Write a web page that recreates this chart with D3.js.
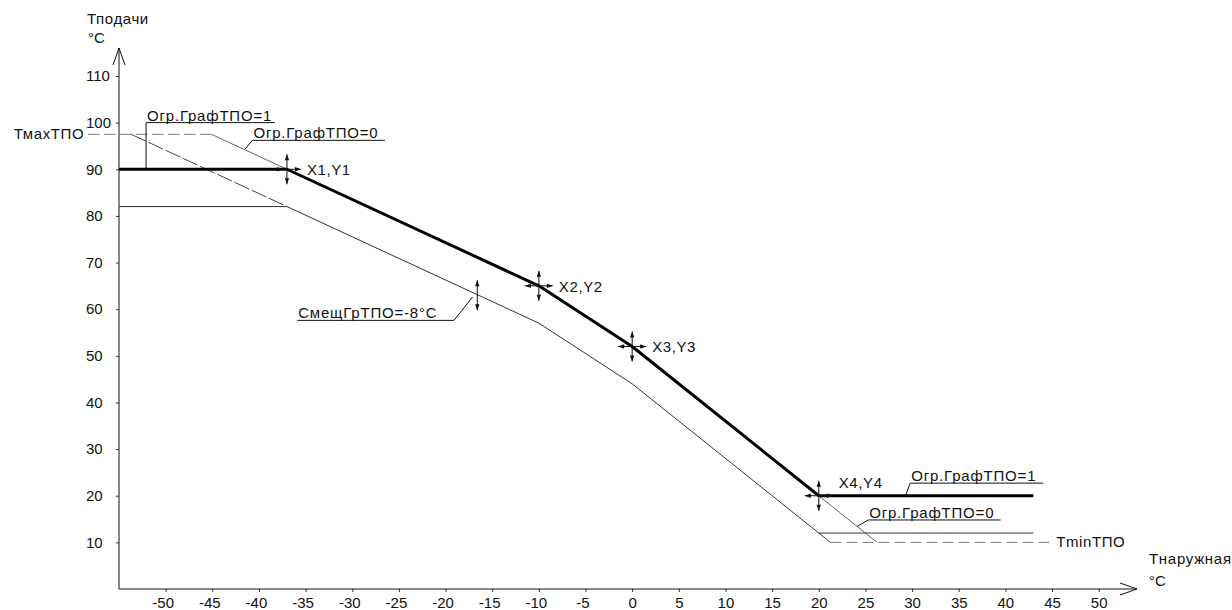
<!DOCTYPE html>
<html>
<head>
<meta charset="utf-8">
<script src="https://cdn.jsdelivr.net/npm/d3@7"></script>
<style>
    body { margin: 0; background: #fff; }
    svg { display: block; }
    text { font-family: "Liberation Sans", Arial, sans-serif; font-size: 15px; fill: #111; }
</style>
</head>
<body>
<svg id="chart" width="1232" height="610"></svg>
<script>
// tick labels
const xTicks = [-50, -45, -40, -35, -30, -25, -20, -15, -10, -5, 0, 5, 10, 15, 20, 25, 30, 35, 40, 45, 50];
const yTicks = [10, 20, 30, 40, 50, 60, 70, 80, 90, 100, 110];

// heating curve with limits on (Огр.ГрафТПО=1)
const curveOn = [[-55, 90], [-37, 90], [-10, 65], [0, 52], [20, 20], [43, 20]];
// same curve shifted by -8
const curveShift = [[-55, 82], [-37, 82], [-10, 57], [0, 44], [20, 12], [43, 12]];
// extensions up to Tmax / down to Tmin (Огр.ГрафТПО=0)
const extTop = [[-45.1, 97.5], [-37, 90]];
const extBottom = [[20, 20], [26.25, 10]];
const shiftExtTop = [[-53.7, 97.5], [-37, 82]];
const shiftExtBottom = [[20, 12], [21.25, 10]];
// Tmax / Tmin levels
const tmaxLine = [[-58.3, 97.5], [-45.1, 97.5]];
const tminLine = [[21.25, 10], [44.7, 10]];

// setpoints
const pointNames = ["X1,Y1", "X2,Y2", "X3,Y3", "X4,Y4"];
const pointX = [-37, -10, 0, 20];
const pointY = [90, 65, 52, 20];

// leader labels: text, underline from x0..x1 at y, leader end (tx, ty)
const notes = [
    {text: "Огр.ГрафТПО=1", x0: -52.1, x1: -38.3, y: 100, tx: -52.1, ty: 90},
    {text: "Огр.ГрафТПО=0", x0: -40.7, x1: -26.5, y: 96.2, tx: -41.5, ty: 94.3},
    {text: "СмещГрТПО=-8°С", x0: -35.9, x1: -19.1, y: 57.6, tx: -17.1, ty: 62.6},
    {text: "Огр.ГрафТПО=1", x0: 29.8, x1: 44.05, y: 22.7, tx: 29.3, ty: 20},
    {text: "Огр.ГрафТПО=0", x0: 25.3, x1: 39.5, y: 14.8, tx: 24.1, ty: 13.4}
];
const shiftMarkX = -16.6, shiftMarkY = 63;

const svg = d3.select("#chart");

// Scales
const x = d3.scaleLinear().domain([-55, 54]).range([119, 1136]);
const y = d3.scaleLinear().domain([0, 116]).range([589, 48]);
const line = d3.line().x(d => x(d[0])).y(d => y(d[1]));

// Axes
const gx = svg.append("g")
    .attr("transform", `translate(0,${y(0)})`)
    .call(d3.axisBottom(x).tickValues(xTicks).tickSize(3).tickSizeOuter(0).tickFormat(d => String(d)));
gx.select(".domain").remove();
gx.selectAll("text")
    .attr("y", 19)
    .attr("dy", 0)
    .attr("dx", d => d < 0 ? -3 : 0)
    .style("font-size", "15px")
    .style("font-family", "Liberation Sans, Arial, sans-serif")
    .attr("fill", "#111");

const gy = svg.append("g")
    .attr("transform", `translate(${x(-55)},0)`)
    .call(d3.axisLeft(y).tickValues(yTicks).tickSize(3).tickSizeOuter(0));
gy.select(".domain").remove();
gy.selectAll("text")
    .attr("text-anchor", "start")
    .attr("x", 86 - x(-55))
    .style("font-size", "15px")
    .style("font-family", "Liberation Sans, Arial, sans-serif")
    .attr("fill", "#111");
svg.selectAll(".tick line").attr("stroke", "#333");

// axis lines with open arrows
const x0 = x(-55), y0 = y(0), xEnd = 1137, yEnd = 48;
svg.append("path")
    .attr("d", `M${x0},${y0}H${xEnd}M${xEnd - 17},${y0 - 6}L${xEnd},${y0}L${xEnd - 17},${y0 + 6}`)
    .attr("fill", "none").attr("stroke", "#111");
svg.append("path")
    .attr("d", `M${x0},${y0}V${yEnd}M${x0 - 6},${yEnd + 17}L${x0},${yEnd}L${x0 + 6},${yEnd + 17}`)
    .attr("fill", "none").attr("stroke", "#111");

// axis titles
svg.append("text").attr("x", 87).attr("y", 24).attr("letter-spacing", 0.6).text("Тподачи");
svg.append("text").attr("x", 88).attr("y", 43).text("°С");
svg.append("text").attr("x", 1149).attr("y", 564).attr("letter-spacing", 0.7).text("Тнаружная");
svg.append("text").attr("x", 1149).attr("y", 586).text("°С");

// Tmax / Tmin dashed levels
svg.append("path").datum(tmaxLine).attr("d", line)
    .attr("fill", "none").attr("stroke", "#777").attr("stroke-dasharray", "11,5");
svg.append("path").datum(tminLine).attr("d", line)
    .attr("fill", "none").attr("stroke", "#777").attr("stroke-dasharray", "11,5");
svg.append("text").attr("x", x(tmaxLine[0][0]) - 4).attr("y", y(97.5) + 5)
    .attr("text-anchor", "end").attr("letter-spacing", 0.6).text("ТмахТПО");
svg.append("text").attr("x", x(tminLine[1][0]) + 7).attr("y", y(10) + 5)
    .attr("letter-spacing", 0.6).text("ТminТПО");

// extensions
[extTop, extBottom].forEach(d => {
    svg.append("path").datum(d).attr("d", line)
        .attr("fill", "none").attr("stroke", "#666").attr("stroke-width", 1);
});
[shiftExtTop, shiftExtBottom].forEach(d => {
    svg.append("path").datum(d).attr("d", line)
        .attr("fill", "none").attr("stroke", "#444").attr("stroke-width", 1)
        .attr("stroke-dasharray", "16,3");
});

// shifted curve
svg.append("path").datum(curveShift).attr("d", line)
    .attr("fill", "none").attr("stroke", "#333").attr("stroke-width", 1);

// main curve
svg.append("path").datum(curveOn).attr("d", line)
    .attr("fill", "none").attr("stroke", "#000").attr("stroke-width", 3)
    .attr("stroke-linejoin", "round");

// leader labels
notes.forEach(n => {
    // leader attaches at the end of the underline closest to the target
    const end = Math.abs(n.tx - n.x1) < Math.abs(n.tx - n.x0) ? n.x1 : n.x0;
    svg.append("path")
        .attr("d", `M${x(n.tx)},${y(n.ty)}L${x(end)},${y(n.y)}M${x(n.x0)},${y(n.y)}H${x(n.x1)}`)
        .attr("fill", "none").attr("stroke", "#111");
    svg.append("text")
        .attr("x", x(n.x0) + 1).attr("y", y(n.y) - 2)
        .attr("letter-spacing", 0.8)
        .text(n.text);
});

// double-headed arrow helpers
function arrowHead(tx, ty, dx, dy) {
    // tip at (tx,ty), pointing in direction (dx,dy)
    const l = 6, w = 2.2;
    const bx = tx - dx * l, by = ty - dy * l;
    return `M${tx},${ty}L${bx - dy * w},${by + dx * w}L${bx + dy * w},${by - dx * w}Z`;
}
function vArrow(cx, cy, r) {
    svg.append("line").attr("x1", cx).attr("x2", cx).attr("y1", cy - r).attr("y2", cy + r)
        .attr("stroke", "#111");
    svg.append("path").attr("d", arrowHead(cx, cy - r, 0, -1) + arrowHead(cx, cy + r, 0, 1))
        .attr("fill", "#111");
}
function hArrow(cx, cy, r) {
    svg.append("line").attr("x1", cx - r).attr("x2", cx + r).attr("y1", cy).attr("y2", cy)
        .attr("stroke", "#111");
    svg.append("path").attr("d", arrowHead(cx - r, cy, -1, 0) + arrowHead(cx + r, cy, 1, 0))
        .attr("fill", "#111");
}

// setpoint markers
pointX.forEach((px, i) => {
    const cx = x(px), cy = y(pointY[i]);
    vArrow(cx, cy, 15);
    hArrow(cx, cy, 14);
    svg.append("text")
        .attr("x", cx + 20)
        .attr("y", i === 3 ? cy - 8 : cy + 6)
        .attr("letter-spacing", 0.6)
        .text(pointNames[i]);
});

// shift marker
vArrow(x(shiftMarkX), y(shiftMarkY), 15);
</script>
</body>
</html>
